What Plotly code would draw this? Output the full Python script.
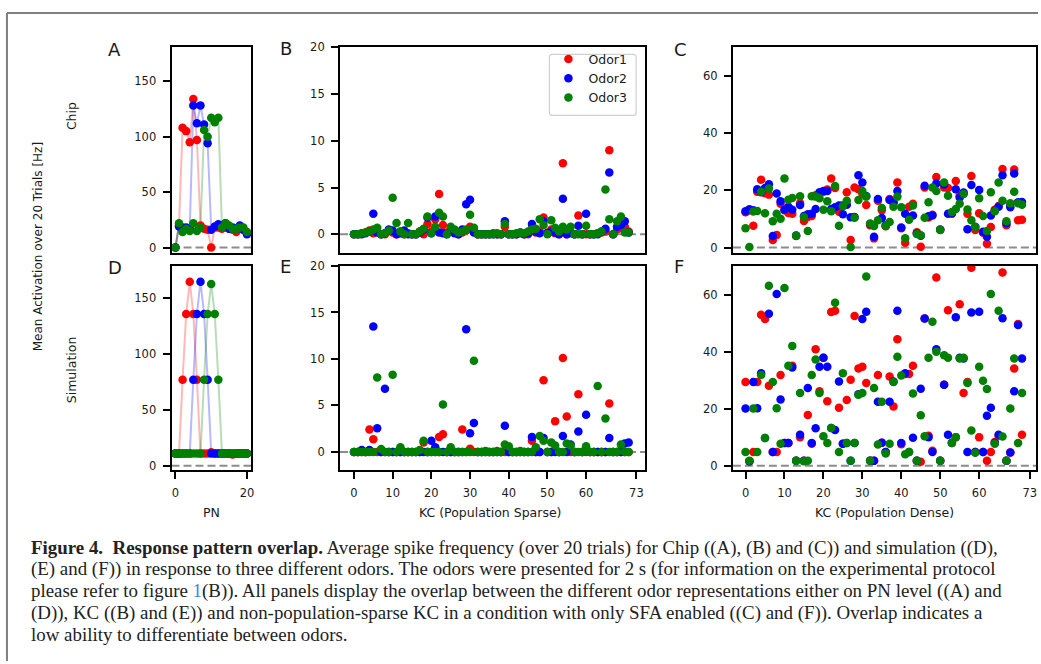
import plotly.graph_objects as go

W, H = 1041, 664

# ---------------- data ----------------
pn_index = list(range(21))
kc_index = list(range(72))

chip_pn_odor1 = [0, 20, 108, 105, 95, 134, 97, 20, 17, 16, 0, 18, 18, 17, 18, 17, 16, 14, 17, 16, 13]
chip_pn_odor2 = [0, 19, 18, 18, 17, 128, 112, 128, 111, 94, 16, 19, 21, 20, 22, 17, 18, 17, 20, 16, 12]
chip_pn_odor3 = [0, 22, 14, 17, 15, 22, 15, 18, 106, 100, 117, 113, 117, 18, 22, 20, 17, 17, 18, 18, 14]

sim_pn_odor1 = [11, 11, 77, 136, 165, 136, 77, 11, 11, 11, 12, 11, 11, 11, 11, 11, 10, 11, 11, 11, 11]
sim_pn_odor2 = [11, 11, 11, 11, 11, 77, 136, 165, 136, 77, 11, 11, 11, 11, 11, 11, 11, 11, 11, 11, 11]
sim_pn_odor3 = [11, 11, 11, 11, 11, 11, 11, 11, 77, 136, 163, 136, 77, 11, 11, 11, 11, 11, 11, 11, 11]

chip_sparse_odor1 = [0, 0, 0.1, 0.2, 0.4, 0.1, 0.3, 0, 0, 0.4, 0.2, 0, 0.3, 0, 0.1, 0, 0, 0.3, 0, 1.1,
                     0.3, 1.6, 4.3, 1.0, 0.2, 0.5, 0.3, 0, 0.2, 0.4, 0.8, 0.3, 0, 0, 0, 0, 0.1, 0, 0, 0.8,
                     0, 0, 0, 0.1, 0, 0, 0.6, 0.2, 0.3, 1.8, 0.2, 0.5, 0.1, 0, 7.6, 0, 0.1, 0, 2.0, 0,
                     0, 0, 0, 0.1, 0.2, 0.3, 9.0, 0, 0.5, 0.7, 0.8, 0.3]
chip_sparse_odor2 = [0, 0, 0, 0.1, 0.3, 2.2, 0.2, 0, 0.1, 0.5, 0.4, 0, 0.1, 0.4, 0, 0, 0, 0.2, 0.5, 1.8,
                     0.1, 1.9, 0.2, 0.1, 0, 0.3, 0.1, 0, 0.5, 3.2, 3.7, 0.2, 0, 0, 0, 0, 0, 0, 0, 1.4,
                     0, 0, 0, 0.2, 0, 0.1, 1.1, 0.3, 0.1, 1.4, 0.1, 0.3, 0.2, 0, 3.8, 0, 0.2, 0, 0.9, 0,
                     2.2, 0, 0, 0, 0.3, 0.6, 6.6, 0, 0.8, 1.0, 1.4, 0.2]
chip_sparse_odor3 = [0, 0, 0.1, 0.2, 0.3, 0.5, 0.7, 0, 0.1, 0.4, 3.9, 1.2, 0.3, 0, 1.2, 0, 0, 0.3, 0.6, 1.9,
                     0.1, 0.8, 2.3, 1.9, 0, 0.8, 0.5, 0.2, 0.3, 0.5, 2.1, 0.7, 0, 0, 0, 0, 0, 0.1, 0, 1.1,
                     0, 0, 0.1, 0.2, 0.1, 0.3, 0.5, 0.6, 1.6, 1.0, 0, 1.5, 0.7, 0.3, 0.8, 0.5, 0.8, 0, 0, 0,
                     0.9, 0, 0, 0.1, 0.3, 4.8, 1.6, 0, 1.4, 1.9, 0.2, 0.2]

sim_sparse_odor1 = [0, 0, 0, 0, 2.4, 1.35, 0, 0, 0, 0, 0, 0, 0, 0, 0, 0, 0, 0, 1.0, 0,
                    0, 0, 1.6, 1.9, 0, 0, 0, 0, 2.4, 0, 0.35, 0, 0, 0, 0.1, 0, 0, 0.1, 0, 0,
                    0, 0, 0, 0.1, 0, 0, 1.2, 0, 0, 7.7, 0, 0, 3.3, 0, 10.1, 3.8, 0, 0, 6.2, 0,
                    0, 0, 0, 0, 0, 0, 5.2, 0, 0, 0, 0, 0]
sim_sparse_odor2 = [0, 0, 0.2, 0, 0.2, 13.5, 2.55, 0, 6.8, 0, 0, 0, 0, 0, 0, 0, 0, 0, 0, 0,
                    1.2, 0.5, 0, 0, 0, 0, 0, 0, 0, 13.2, 2.0, 3.1, 0, 0, 0, 0, 0, 0, 0, 2.8,
                    0, 0, 0, 0, 0, 0, 1.6, 0, 0, 1.5, 0, 0, 0, 0, 1.7, 0, 0.8, 0, 2.2, 0,
                    4.0, 0, 0, 0, 0, 0, 1.5, 0, 0, 0, 0.9, 1.0]
sim_sparse_odor3 = [0, 0, 0, 0, 0, 0, 8.0, 0.3, 0, 0, 8.3, 0, 0.5, 0, 0, 0, 0, 0.2, 1.2, 0,
                    0, 0, 0, 5.1, 0, 0.5, 0, 0, 0, 0, 0, 9.8, 0, 0, 0, 0, 0, 0, 0, 0.8,
                    0.6, 0, 0, 0, 0, 0, 0, 0.5, 1.7, 1.2, 0, 1.0, 0.7, 0, 0, 0.9, 0.7, 0, 0, 0,
                    0.6, 0, 0, 7.1, 0, 3.6, 0, 0, 0, 0.8, 0, 0]

chip_dense_odor1 = [12.3, 13.0, 7.6, 19.5, 23.7, 19.0, 18.5, 2.6, 4.4, 15.3, 13.0, 12.1, 11.8, 4.0, 15.5,
                    9.3, 10.7, 11.0, 18.3, 19.0, 19.5, 20.3, 24.1, 20.8, 12.5, 14.8, 19.3, 2.6, 21.0,
                    20.4, 18.8, 14.9, 7.8, 3.2, 16.4, 13.0, 7.4, 17.0, 15.5, 22.7, 6.7, 1.7, 14.3, 15.3,
                    5.3, 0.3, 21.0, 10.5, 11.5, 24.7, 6.3, 21.0, 20.8, 11.8, 23.3, 18.1, 19.0, 11.8,
                    25.0, 6.1, 12.0, 5.2, 1.3, 7.2, 13.2, 14.5, 27.5, 7.8, 15.0, 27.3, 9.5, 9.7]
chip_dense_odor2 = [12.7, 13.4, 13.0, 20.4, 19.3, 20.8, 22.1, 4.0, 18.9, 16.2, 13.2, 14.3, 13.2, 4.2, 14.9,
                    11.0, 11.6, 11.8, 13.5, 19.3, 19.8, 19.8, 13.5, 14.1, 14.7, 11.6, 15.0, 10.6, 10.7,
                    25.3, 22.7, 18.0, 8.2, 3.8, 17.0, 10.3, 7.8, 16.6, 15.8, 19.8, 7.0, 11.8, 10.6, 11.2,
                    4.9, 4.1, 21.6, 10.9, 11.2, 22.4, 6.2, 22.0, 11.8, 12.0, 20.4, 17.5, 19.2, 6.4,
                    21.9, 7.3, 20.1, 5.5, 3.8, 11.2, 12.9, 14.3, 25.3, 8.5, 14.1, 25.9, 15.8, 15.9]
chip_dense_odor3 = [6.7, 0.2, 12.6, 12.8, 19.5, 12.0, 20.6, 9.2, 11.8, 10.1, 24.1, 16.7, 17.3, 4.1, 17.9,
                    10.7, 5.8, 17.9, 17.8, 17.2, 13.2, 16.2, 12.7, 21.5, 7.6, 14.4, 16.4, 0.2, 10.4,
                    16.6, 19.8, 17.8, 8.4, 7.5, 9.5, 13.8, 7.5, 8.9, 14.3, 17.8, 14.1, 3.2, 9.7, 14.7,
                    4.7, 4.3, 10.4, 15.8, 21.0, 19.8, 6.1, 22.7, 18.1, 12.4, 13.5, 15.3, 18.7, 13.3,
                    9.5, 7.2, 17.2, 11.0, 5.8, 19.3, 12.7, 22.7, 16.4, 9.2, 15.5, 19.5, 15.5, 15.0]

sim_dense_odor1 = [29.3, 1.5, 4.8, 29.3, 52.9, 51.4, 28.0, 4.8, 4.8, 31.8, 7.9, 7.9, 35.0, 1.7, 10.0,
                   1.7, 17.8, 7.7, 40.8, 26.1, 37.8, 22.6, 53.9, 54.3, 20.3, 7.7, 23.0, 30.1, 52.5,
                   34.1, 34.7, 29.0, 1.7, 1.7, 31.8, 8.0, 4.8, 31.3, 20.7, 44.3, 7.5, 32.1, 32.1, 35.0,
                   1.7, 1.4, 51.6, 10.5, 5.2, 66.0, 1.7, 28.4, 54.5, 7.9, 10.0, 56.6, 25.5, 29.3,
                   69.4, 4.8, 10.0, 4.8, 1.7, 4.8, 8.3, 10.5, 67.7, 1.7, 4.6, 34.1, 49.7, 10.8]
sim_dense_odor2 = [20.0, 1.5, 29.3, 20.1, 32.4, 9.7, 53.3, 4.8, 60.2, 23.2, 7.9, 7.9, 34.4, 1.7, 10.8,
                   1.7, 27.2, 7.9, 13.1, 34.7, 37.8, 34.7, 13.2, 12.5, 29.5, 7.7, 7.9, 1.7, 7.9,
                   25.0, 51.4, 54.0, 1.7, 1.7, 22.4, 8.0, 4.8, 22.4, 29.5, 54.3, 7.9, 32.4, 4.8, 9.8,
                   1.7, 27.0, 51.6, 10.0, 4.8, 40.8, 1.7, 28.4, 10.8, 8.0, 52.0, 37.8, 37.6, 4.8,
                   53.7, 4.8, 54.0, 4.8, 17.5, 20.3, 7.9, 10.8, 51.7, 1.7, 4.6, 26.1, 49.3, 37.6]
sim_dense_odor3 = [4.8, 1.7, 20.0, 4.8, 31.8, 9.7, 63.1, 29.3, 20.1, 7.7, 62.3, 35.0, 42.0, 1.7, 25.5,
                   1.5, 1.7, 31.8, 37.2, 25.5, 10.3, 7.9, 13.2, 57.1, 4.8, 32.4, 7.9, 1.7, 7.9,
                   24.9, 25.5, 66.3, 1.7, 27.2, 7.4, 22.4, 4.3, 7.7, 29.3, 38.2, 31.6, 4.0, 4.8, 25.3,
                   1.7, 17.7, 10.3, 37.8, 50.5, 39.9, 1.7, 38.7, 37.8, 7.9, 10.0, 37.6, 37.8, 29.0,
                   12.3, 4.5, 34.7, 29.8, 26.9, 60.2, 7.7, 54.3, 10.2, 1.7, 20.0, 37.6, 7.9, 25.5]

odor_names = ["Odor1", "Odor2", "Odor3"]
odor_colors = ["#ff0000", "#0000ff", "#008000"]
odor_line_colors = ["rgba(255,0,0,0.28)", "rgba(0,0,255,0.28)", "rgba(0,128,0,0.28)"]

panel_letters = ["A", "B", "C", "D", "E", "F"]
row_labels = ["Chip", "Simulation"]
y_title = "Mean Activation over 20 Trials [Hz]"
x_titles = ["PN", "KC (Population Sparse)", "KC (Population Dense)"]

pn_ticks = [0, 20]
kc_ticks = [0, 10, 20, 30, 40, 50, 60, 73]
pn_yticks = [0, 50, 100, 150]
sparse_yticks = [0, 5, 10, 15, 20]
dense_yticks = [0, 20, 40, 60]

caption_lines = [
    "<b>Figure 4.  Response pattern overlap.</b> Average spike frequency (over 20 trials) for Chip ((A), (B) and (C)) and simulation ((D),",
    "(E) and (F)) in response to three different odors. The odors were presented for 2 s (for information on the experimental protocol",
    "please refer to figure <span style='color:#2f8fd8'>1</span>(B)). All panels display the overlap between the different odor representations either on PN level ((A) and",
    "(D)), KC ((B) and (E)) and non-population-sparse KC in a condition with only SFA enabled ((C) and (F)). Overlap indicates a",
    "low ability to differentiate between odors.",
]

# ---------------- layout helpers ----------------
def xdom(p0, p1):
    return [p0 / W, p1 / W]


def ydom(p0, p1):
    return [1 - p1 / H, 1 - p0 / H]


# pixel boxes of each panel: (left, right, top, bottom)
boxes = {
    1: (172, 252, 41, 250),
    2: (341, 647, 41, 250),
    3: (735, 1039, 41, 250),
    4: (172, 252, 263, 470),
    5: (341, 647, 263, 470),
    6: (735, 1039, 263, 470),
}
xranges = {1: [-1.1, 21.2], 2: [-3.61, 75.26], 3: [-3.25, 74.6],
           4: [-1.1, 21.2], 5: [-3.61, 75.26], 6: [-3.25, 74.6]}
yranges = {1: [-5.1, 180.5], 2: [-2.03, 20], 3: [-2.0, 70.0],
           4: [-3.8, 179], 5: [-1.94, 20], 6: [-1.5, 70.0]}
yticks = {1: pn_yticks, 2: sparse_yticks, 3: dense_yticks,
          4: pn_yticks, 5: sparse_yticks, 6: dense_yticks}
xticks = {4: pn_ticks, 5: kc_ticks, 6: kc_ticks}

panel_data = {
    1: (pn_index, [chip_pn_odor1, chip_pn_odor2, chip_pn_odor3]),
    2: (kc_index, [chip_sparse_odor1, chip_sparse_odor2, chip_sparse_odor3]),
    3: (kc_index, [chip_dense_odor1, chip_dense_odor2, chip_dense_odor3]),
    4: (pn_index, [sim_pn_odor1, sim_pn_odor2, sim_pn_odor3]),
    5: (kc_index, [sim_sparse_odor1, sim_sparse_odor2, sim_sparse_odor3]),
    6: (kc_index, [sim_dense_odor1, sim_dense_odor2, sim_dense_odor3]),
}

FONT = "DejaVu Sans"
fig = go.Figure()

for n, (xs, series) in panel_data.items():
    xa = "x" if n == 1 else f"x{n}"
    ya = "y" if n == 1 else f"y{n}"
    if n in (1, 4):
        for k, vals in enumerate(series):
            fig.add_trace(go.Scatter(x=xs, y=vals, mode="lines", xaxis=xa, yaxis=ya,
                                     line=dict(color=odor_line_colors[k], width=2),
                                     showlegend=False, hoverinfo="skip"))
    for k, vals in enumerate(series):
        fig.add_trace(go.Scatter(x=xs, y=vals, mode="markers", xaxis=xa, yaxis=ya,
                                 name=odor_names[k],
                                 marker=dict(color=odor_colors[k], size=8.5, line=dict(width=0)),
                                 showlegend=(n == 2)))

layout = dict(
    width=W, height=H,
    margin=dict(l=0, r=0, t=0, b=0),
    paper_bgcolor="white", plot_bgcolor="white",
    font=dict(family=FONT, color="#1a1a1a"),
    legend=dict(x=550 / W, y=1 - 38 / H, xanchor="left", yanchor="top",
                bgcolor="rgba(0,0,0,0)", borderwidth=0,
                font=dict(family=FONT, size=12.5, color="#1a1a1a"),
                tracegroupgap=0, itemwidth=30),
)

shapes = []
for n, (l, r, t, b) in boxes.items():
    sfx = "" if n == 1 else str(n)
    ax_common = dict(showline=True, linecolor="black", linewidth=2, mirror=True,
                     showgrid=False, zeroline=False, ticks="outside", ticklen=7,
                     tickwidth=2, tickcolor="black",
                     tickfont=dict(family=FONT, size=11.5, color="#1a1a1a"))
    xa = dict(ax_common, domain=xdom(l, r), range=xranges[n], anchor="y" + sfx)
    if n in xticks:
        xa.update(tickmode="array", tickvals=xticks[n], ticklabelstandoff=4)
    else:
        xa.update(showticklabels=False, ticks="")
    ya = dict(ax_common, domain=ydom(t, b), range=yranges[n], anchor="x" + sfx,
              tickmode="array", tickvals=yticks[n], ticklabelstandoff=4)
    layout["xaxis" + sfx] = xa
    layout["yaxis" + sfx] = ya
    shapes.append(dict(type="line", xref=f"x{sfx} domain", yref=f"y{sfx}",
                       x0=0, x1=1, y0=0, y1=0, layer="below",
                       line=dict(color="#8c8c8c", width=2, dash="8px,4px")))

# rounded legend frame inside panel B
lx0, lx1, ly0, ly1, rad = 551 / W, 638 / W, 1 - 48 / H, 1 - 110 / H, 3
rx, ry = rad / W, rad / H
legend_path = (f"M {lx0 + rx},{ly0} L {lx1 - rx},{ly0} Q {lx1},{ly0} {lx1},{ly0 - ry} "
               f"L {lx1},{ly1 + ry} Q {lx1},{ly1} {lx1 - rx},{ly1} L {lx0 + rx},{ly1} "
               f"Q {lx0},{ly1} {lx0},{ly1 + ry} L {lx0},{ly0 - ry} Q {lx0},{ly0} {lx0 + rx},{ly0} Z")
shapes.append(dict(type="path", xref="paper", yref="paper", path=legend_path, layer="below",
                   fillcolor="white", line=dict(color="#d0d0d0", width=1.2)))

# page frame lines
shapes.append(dict(type="line", xref="paper", yref="paper", x0=7 / W, x1=1, y0=1 - 6 / H, y1=1 - 6 / H,
                   line=dict(color="#808080", width=2)))
shapes.append(dict(type="line", xref="paper", yref="paper", x0=7 / W, x1=7 / W, y0=0, y1=1 - 6 / H,
                   line=dict(color="#808080", width=2)))
layout["shapes"] = shapes

ann = []


def text_at(txt, px, py, size, xanchor="center", angle=0, family=FONT, color="#1a1a1a"):
    ann.append(dict(text=txt, x=px / W, y=1 - py / H, xref="paper", yref="paper",
                    xanchor=xanchor, yanchor="middle", showarrow=False, textangle=angle,
                    font=dict(family=family, size=size, color=color)))


letter_pos = [(115, 43), (287, 42), (682, 43), (115, 264), (286, 263), (681, 263)]
for letter, (px, py) in zip(panel_letters, letter_pos):
    text_at(letter, px, py, 18)

text_at(row_labels[0], 72, 111, 12.5, angle=-90)
text_at(row_labels[1], 72, 368, 12.5, angle=-90)
text_at(y_title, 38, 243, 12, angle=-90)

x_title_pos = [(212, 513), (492, 513), (887, 513)]
for t, (px, py) in zip(x_titles, x_title_pos):
    text_at(t, px, py, 12.5)

cap_y = [549, 571, 593, 615, 637]
for line, py in zip(caption_lines, cap_y):
    text_at(line, 29, py, 18.9, xanchor="left", family="Liberation Serif", color="#222222")

layout["annotations"] = ann
fig.update_layout(**layout)
fig.write_html("out.html")
